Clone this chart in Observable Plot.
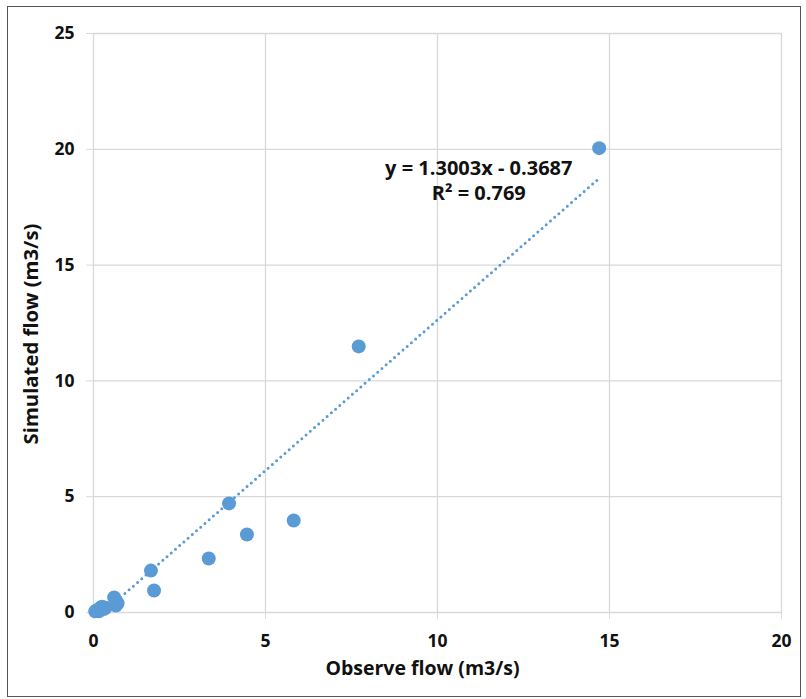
<!DOCTYPE html>
<html>
<head>
<meta charset="utf-8">
<script src="https://cdn.jsdelivr.net/npm/d3@7"></script>
<script src="https://cdn.jsdelivr.net/npm/@observablehq/plot@0.6"></script>
<style>
  html, body { margin: 0; padding: 0; background: #fff; }
  #chart { position: absolute; left: 7px; top: 6px; }
  #chart svg { border: 1.5px solid #555; display: block; }
</style>
</head>
<body>
<div id="chart"></div>
<script>
// Observed vs simulated flow (m3/s)
const observed  = [0.05, 0.1, 0.15, 0.2, 0.25, 0.3, 0.35, 0.6, 0.65, 0.7, 1.67, 1.76, 3.35, 3.94, 4.46, 5.82, 7.71, 14.7];
const simulated = [0.05, 0.1, 0.05, 0.2, 0.25, 0.15, 0.2, 0.65, 0.3, 0.4, 1.81, 0.95, 2.33, 4.71, 3.37, 3.97, 11.49, 20.05];
const xTicks = [0, 5, 10, 15, 20];
const yTicks = [0, 5, 10, 15, 20, 25];
const slope = 1.3003, intercept = -0.3687, r2 = 0.769;
const trendRange = [0.3, 14.7];
const trendLabel = ["y = 1.3003x - 0.3687", "R² = 0.769"];

const points = observed.map((x, i) => ({x, y: simulated[i]}));
const trend = trendRange.map(x => ({x, y: slope * x + intercept}));

const font = "'Open Sans', 'Noto Sans', sans-serif";

const chart = Plot.plot({
  width: 792,
  height: 689,
  marginLeft: 85,
  marginTop: 26,
  marginRight: 19,
  marginBottom: 84,
  style: {fontFamily: font, background: "#fff"},
  x: {domain: [0, 20], ticks: xTicks},
  y: {domain: [0, 25], ticks: yTicks},
  marks: [
    Plot.gridX(xTicks, {stroke: "#d9d9d9", strokeOpacity: 1, strokeWidth: 1.3}),
    Plot.gridY(yTicks, {stroke: "#d9d9d9", strokeOpacity: 1, strokeWidth: 1.3}),
    Plot.axisX(xTicks, {tickSize: 7, tickPadding: 15, stroke: "#d9d9d9", fill: "#111", fontSize: 17.5, fontWeight: "bold", label: null}),
    Plot.axisY(yTicks, {tickSize: 7, tickPadding: 12, stroke: "#d9d9d9", fill: "#111", fontSize: 17.5, fontWeight: "bold", label: null}),
    Plot.line(trend, {x: "x", y: "y", stroke: "#5b9bd5", strokeWidth: 3, strokeDasharray: "0 5.6", strokeLinecap: "round"}),
    Plot.dot(points, {x: "x", y: "y", r: 7, fill: "#5b9bd5", stroke: "none"}),
    Plot.text([trendLabel.join("\n")], {x: 11.2, y: 19.2, text: d => d, lineAnchor: "middle", dy: 12, lineHeight: 1.25, fontSize: 20, fontWeight: "bold", fill: "#111", fontFamily: font}),
    Plot.text(["Observe flow (m3/s)"], {frameAnchor: "bottom", textAnchor: "middle", lineAnchor: "middle", dx: -15, dy: 56, fontSize: 19.5, fontWeight: "bold", fill: "#111", fontFamily: font}),
    Plot.text(["Simulated flow (m3/s)"], {frameAnchor: "left", textAnchor: "middle", lineAnchor: "middle", rotate: -90, dx: -62, dy: 11, fontSize: 20.3, fontWeight: "bold", fill: "#111", fontFamily: font})
  ]
});
document.getElementById("chart").appendChild(chart);
</script>
</body>
</html>
